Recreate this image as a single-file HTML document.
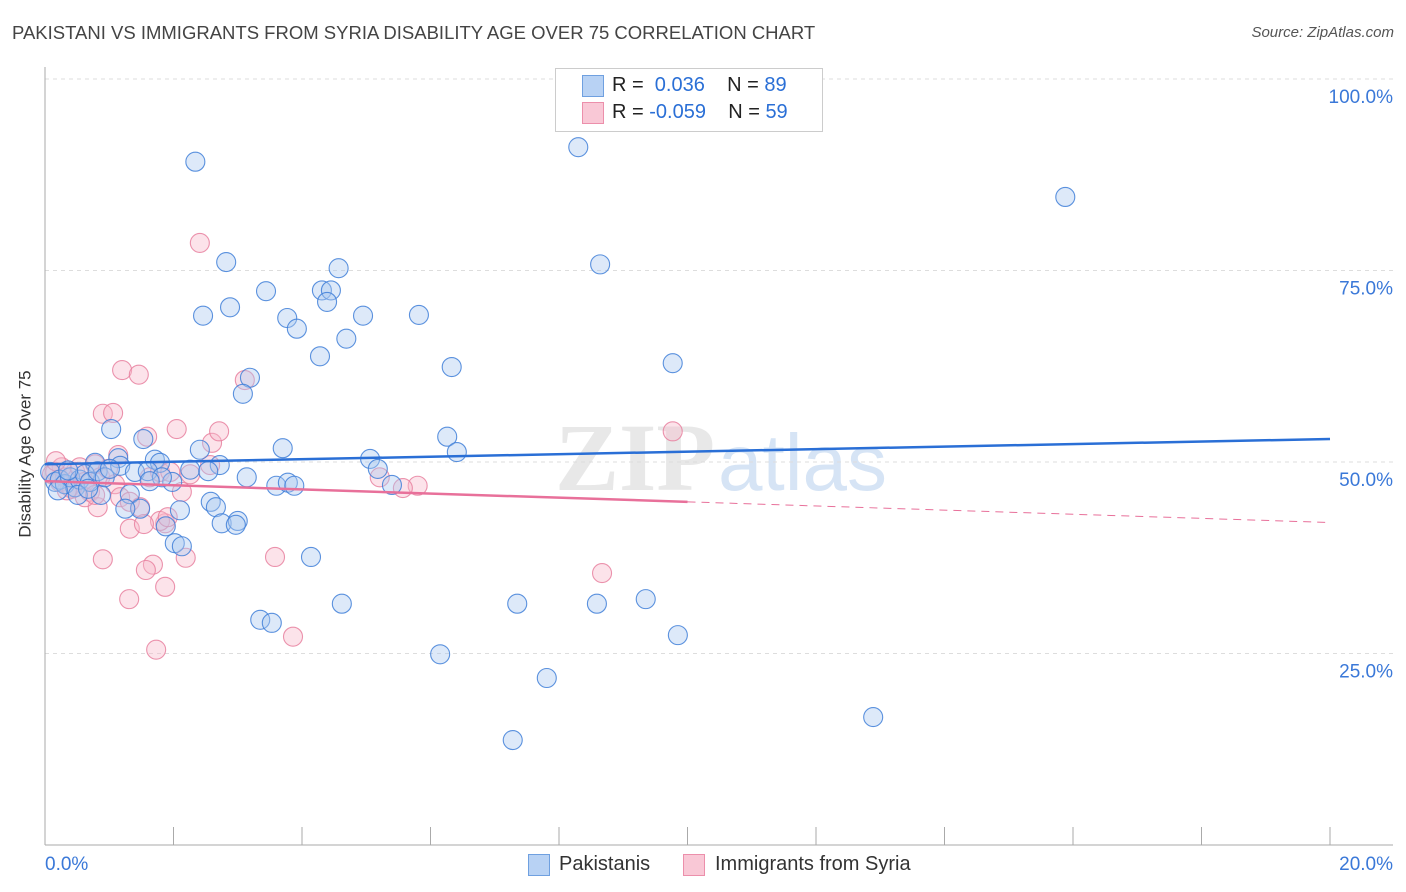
<!DOCTYPE html>
<html><head><meta charset="utf-8">
<style>
body{margin:0;background:#fff;font-family:"Liberation Sans",sans-serif;}
#wrap{position:relative;width:1406px;height:892px;overflow:hidden}
.t{position:absolute;white-space:nowrap}
</style></head><body>
<div id="wrap">
<div class="t" style="left:12px;top:22px;font-size:18.5px;color:#444">PAKISTANI VS IMMIGRANTS FROM SYRIA DISABILITY AGE OVER 75 CORRELATION CHART</div>
<div class="t" style="right:12px;top:24px;font-size:15px;color:#555;font-style:italic">Source: ZipAtlas.com</div>
<div class="t" style="left:-58px;top:444px;font-size:17px;color:#333;transform:rotate(-90deg)">Disability Age Over 75</div>
<svg id="svg" width="1406" height="892" style="position:absolute;left:0;top:0"></svg>
<div style="position:absolute;left:555px;top:68px;width:266px;height:62px;border:1px solid #ccc;background:#fff"></div>
<div style="position:absolute;left:582px;top:75px;width:20px;height:20px;background:#b8d2f4;border:1px solid #6fa0e0"></div>
<div class="t" style="left:612px;top:74px;font-size:20px;color:#222">R = &nbsp;<span style="color:#2a6fd6">0.036</span>&nbsp;&nbsp;&nbsp; N = <span style="color:#2a6fd6">89</span></div>
<div style="position:absolute;left:582px;top:102px;width:20px;height:20px;background:#f9c8d6;border:1px solid #ec8fab"></div>
<div class="t" style="left:612px;top:101px;font-size:20px;color:#222">R = <span style="color:#2a6fd6">-0.059</span>&nbsp;&nbsp;&nbsp; N = <span style="color:#2a6fd6">59</span></div>
<div style="position:absolute;left:528px;top:854px;width:20px;height:20px;background:#b8d2f4;border:1px solid #6fa0e0"></div>
<div class="t" style="left:559px;top:853px;font-size:20px;color:#333">Pakistanis</div>
<div style="position:absolute;left:683px;top:854px;width:20px;height:20px;background:#f9c8d6;border:1px solid #ec8fab"></div>
<div class="t" style="left:715px;top:853px;font-size:20px;color:#333">Immigrants from Syria</div>
</div>
<script>
const xTicks=["0.0%","20.0%"];
const yTickVals=[25,50,75,100];
const yTickLabels=["25.0%","50.0%","75.0%","100.0%"];
const blueX=[2.34,8.30,15.88,2.82,8.64,4.57,3.44,4.31,4.45,4.39,2.88,2.46,3.77,4.95,5.82,3.92,4.69,4.28,6.33,9.77,3.19,3.08,6.26,6.41,1.53,1.03,3.70,5.06,5.18,2.41,1.71,1.14,1.79,0.78,1.17,1.40,1.60,2.26,2.72,2.54,3.14,1.98,1.82,1.63,3.60,3.78,3.88,5.40,0.87,1.32,2.58,2.66,1.48,1.25,2.10,2.75,3.00,2.97,1.88,2.02,2.13,4.14,3.35,3.53,4.62,7.35,8.59,9.35,9.85,6.15,7.81,12.89,7.28,0.08,0.16,0.23,0.31,0.39,0.47,0.54,0.62,0.70,0.82,0.93,1.01,0.20,0.36,0.51,0.67];
const blueY=[89.2,91.1,84.6,76.1,75.8,75.3,72.3,72.4,72.4,70.9,70.2,69.1,68.8,69.1,69.2,67.4,66.1,63.8,62.4,62.9,61.0,58.9,53.3,51.3,53.0,54.3,51.8,50.4,49.1,51.6,50.3,50.5,49.9,49.9,49.5,48.7,48.8,49.0,49.6,48.8,48.0,47.4,48.0,47.5,46.9,47.3,46.9,47.0,45.7,45.8,44.8,44.1,43.9,43.9,43.7,42.0,42.3,41.8,41.6,39.4,39.0,37.6,29.4,29.0,31.5,31.5,31.5,32.1,27.4,24.9,21.8,16.7,13.7,48.7,47.4,47.7,47.1,48.0,46.7,47.7,48.4,47.4,48.8,48.0,49.1,46.3,48.9,45.7,46.5];
const pinkX=[2.41,1.20,1.46,0.90,1.06,1.59,2.05,2.60,2.71,3.11,0.16,0.23,0.31,0.39,0.47,0.54,0.62,0.70,0.78,0.86,0.98,1.09,1.17,1.32,1.48,1.63,1.79,1.87,1.95,2.13,2.26,1.32,1.79,1.54,0.90,1.68,1.57,2.19,1.87,1.31,3.58,3.86,1.73,9.77,8.67,5.21,5.80,5.57,2.57,0.82,0.62,0.42,0.26,1.14,0.78,1.91,0.11,0.17,0.34];
const pinkY=[78.6,62.0,61.4,56.3,56.4,53.3,54.3,52.5,54.0,60.7,48.7,47.4,48.0,46.7,48.7,49.3,47.4,46.1,49.7,48.0,49.1,47.1,45.4,44.8,44.1,48.0,48.7,42.0,48.7,46.1,48.4,41.3,42.3,41.9,37.3,36.6,35.9,37.5,33.7,32.1,37.6,27.2,25.5,54.0,35.5,48.0,46.9,46.6,49.6,44.1,45.4,46.5,49.3,50.9,45.7,42.8,48.4,50.1,46.3];
const blueLine=[49.7,53.0];
const pinkLine=[47.5,42.1];
const NS="http://www.w3.org/2000/svg",svg=document.getElementById('svg');
const X0=45,X1=1330,Y0=845,Y100=79;
const sx=v=>X0+v/20*(X1-X0), sy=v=>Y0-v/100*(Y0-Y100);
function mk(t,a){const e=document.createElementNS(NS,t);for(const k in a)e.setAttribute(k,a[k]);svg.appendChild(e);return e;}
let w=mk('text',{x:555,y:490,'font-size':96,fill:'#e8e8e8','font-family':'Liberation Serif','font-weight':'bold'});w.textContent='ZIP';


let w2=mk('text',{x:718,y:490,'font-size':80,fill:'#d6e4f5','font-family':'Liberation Sans'});w2.textContent='atlas';


yTickVals.forEach((v,i)=>{
 const g=mk('line',{x1:X0,x2:1393,y1:sy(v),y2:sy(v),stroke:'#ddd','stroke-dasharray':'4,4'});
 
 
 const t=mk('text',{x:1393,y:sy(v)+24,'text-anchor':'end','font-size':19,fill:'#3a78d8','font-family':'Liberation Sans'});t.textContent=yTickLabels[i];
 
 
});
let ax=mk('line',{x1:X0,x2:X0,y1:67,y2:Y0,stroke:'#aaa'});


let bx=mk('line',{x1:X0,x2:1393,y1:Y0,y2:Y0,stroke:'#aaa'});


for(let i=1;i<=10;i++){const tk=mk('line',{x1:sx(i*2),x2:sx(i*2),y1:Y0,y2:Y0-18,stroke:'#aaa'});
 
 }
[[0,'start',45],[20,'end',1393]].forEach((d,i)=>{const t=mk('text',{x:d[2],y:870,'text-anchor':d[1],'font-size':19,fill:'#3a78d8','font-family':'Liberation Sans'});t.textContent=xTicks[i];
 
 });
function pts(xs,ys,fill,stroke,name){xs.forEach((x,i)=>{const c=mk('circle',{cx:sx(x),cy:sy(ys[i]),r:9.5,fill:fill,'fill-opacity':0.4,stroke:stroke,'stroke-width':1.1,'stroke-opacity':0.85});
 
 });}
pts(pinkX,pinkY,'#f7b8cb','#e8809f','point-syria');
pts(blueX,blueY,'#a9c8f0','#3f7fd8','point-pakistani');
let bl=mk('line',{x1:sx(0),y1:sy(blueLine[0]),x2:sx(20),y2:sy(blueLine[1]),stroke:'#2a6fd6','stroke-width':2.5});


const pm=pinkLine[0]+(pinkLine[1]-pinkLine[0])*0.5;
let pl=mk('line',{x1:sx(0),y1:sy(pinkLine[0]),x2:sx(10),y2:sy(pm),stroke:'#e8709a','stroke-width':2.5});


let pd=mk('line',{x1:sx(10),y1:sy(pm),x2:sx(20),y2:sy(pinkLine[1]),stroke:'#e8709a','stroke-width':1,'stroke-dasharray':'8,6'});


</script>
</body></html>
